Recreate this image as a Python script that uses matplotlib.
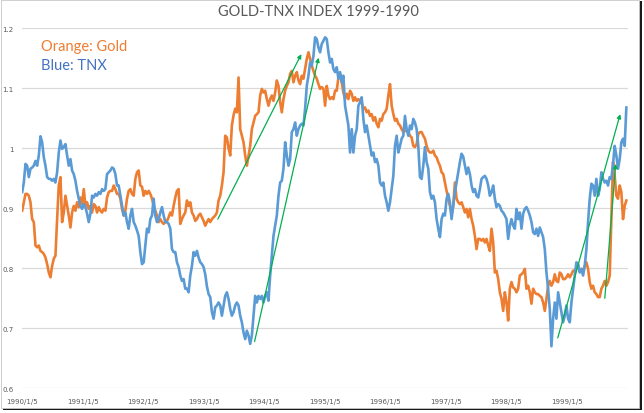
import matplotlib
matplotlib.use("Agg")
import matplotlib.pyplot as plt
from matplotlib.patches import Rectangle
import pandas as pd

plt.rcParams['font.family'] = ['Lato', 'DejaVu Sans']

# weekly-ish samples, 1990/1/5 .. 1999/12/31
gold = [
    0.896, 0.910, 0.924, 0.924, 0.921, 0.910, 0.882, 0.877, 0.838, 0.835,
    0.838, 0.829, 0.827, 0.824, 0.818, 0.807, 0.793, 0.785, 0.804, 0.816,
    0.821, 0.882, 0.938, 0.952, 0.877, 0.893, 0.921, 0.904, 0.888, 0.868,
    0.893, 0.904, 0.896, 0.910, 0.902, 0.918, 0.907, 0.932, 0.904, 0.910,
    0.899, 0.904, 0.893, 0.907, 0.904, 0.893, 0.902, 0.896, 0.893, 0.899,
    0.896, 0.918, 0.927, 0.929, 0.929, 0.938, 0.932, 0.924,
    0.924, 0.916, 0.899, 0.888, 0.896, 0.916, 0.929, 0.932, 0.924, 0.921,
    0.949, 0.960, 0.963, 0.938, 0.936, 0.921, 0.929, 0.924, 0.929, 0.924,
    0.916, 0.904, 0.896, 0.888, 0.877, 0.882, 0.877, 0.874, 0.877, 0.879,
    0.885, 0.893, 0.888, 0.904, 0.918, 0.929, 0.932, 0.874, 0.882, 0.888,
    0.893, 0.913, 0.904, 0.910, 0.893, 0.888, 0.879, 0.882, 0.888, 0.891,
    0.885, 0.879, 0.871, 0.877, 0.882, 0.877, 0.882, 0.885, 0.888, 0.893,
    0.913, 0.921, 0.938, 0.960, 1.021, 1.018, 1.000, 0.988, 1.038, 1.055,
    1.066, 1.060, 1.118, 1.032, 1.021, 1.010, 0.988, 0.971, 0.988, 1.004,
    1.032, 1.043, 1.054, 1.057, 1.060, 1.088, 1.099, 1.093, 1.096, 1.082,
    1.071, 1.082, 1.088, 1.079, 1.093, 1.113, 1.104, 1.077, 1.060, 1.082,
    1.096, 1.104, 1.110, 1.124, 1.129, 1.110, 1.121, 1.127, 1.113, 1.107,
    1.121, 1.116, 1.132, 1.149, 1.160, 1.149, 1.138, 1.129, 1.121, 1.116,
    1.107, 1.099, 1.102, 1.099, 1.071, 1.104, 1.088, 1.082, 1.085, 1.082,
    1.096, 1.096, 1.118, 1.124, 1.110, 1.093, 1.082, 1.091, 1.082, 1.096,
    1.091, 1.079, 1.085, 1.079, 1.082, 1.079, 1.076, 1.066, 1.068, 1.060,
    1.063, 1.054, 1.057, 1.046, 1.052, 1.041, 1.035, 1.049, 1.046, 1.057,
    1.060, 1.066, 1.088, 1.107, 1.071, 1.057, 1.046, 1.049, 1.041, 1.038,
    1.032, 1.027, 1.029, 1.029, 1.027, 1.021, 1.018, 1.004, 1.002, 1.007,
    1.024, 1.027, 1.027, 1.021, 1.016, 1.004, 0.996, 0.993, 0.993, 0.996,
    0.988, 0.985, 0.977, 0.971, 0.960, 0.957, 0.943, 0.929, 0.916, 0.904,
    0.891, 0.904, 0.943, 0.916, 0.910, 0.907, 0.910, 0.902, 0.893, 0.899,
    0.885, 0.899, 0.882, 0.871, 0.854, 0.832, 0.849, 0.849, 0.846, 0.849,
    0.843, 0.849, 0.838, 0.829, 0.866, 0.843, 0.793, 0.796, 0.782, 0.760,
    0.749, 0.729, 0.760, 0.743, 0.713, 0.766, 0.777, 0.768, 0.766, 0.760,
    0.766, 0.788, 0.790, 0.793, 0.799, 0.766, 0.771, 0.760, 0.741, 0.766,
    0.760, 0.757, 0.757, 0.754, 0.752, 0.743, 0.729, 0.749, 0.771, 0.779,
    0.771, 0.777, 0.790, 0.779, 0.777, 0.793, 0.790, 0.782, 0.782, 0.785,
    0.790, 0.785, 0.790, 0.796, 0.796, 0.799, 0.804, 0.796, 0.799, 0.796,
    0.804, 0.810, 0.799, 0.777, 0.766, 0.771, 0.760, 0.757, 0.752, 0.752,
    0.766, 0.771, 0.779, 0.771, 0.777, 0.788, 0.882, 0.977, 0.954, 0.921,
    0.916, 0.938, 0.927, 0.882, 0.904, 0.913,
]

tnx = [
    0.927, 0.943, 0.974, 0.971, 0.952, 0.966, 0.968, 0.971, 0.979, 0.971,
    0.988, 1.020, 1.010, 0.985, 0.971, 0.952, 0.949, 0.949, 0.946, 0.949,
    0.943, 0.960, 0.993, 1.013, 0.999, 1.002, 1.007, 0.988, 0.971, 0.982,
    0.963, 0.957, 0.946, 0.929, 0.916, 0.904, 0.899, 0.907, 0.902, 0.891,
    0.877, 0.891, 0.921, 0.918, 0.924, 0.921, 0.927, 0.924, 0.932, 0.929,
    0.932, 0.957, 0.960, 0.963, 0.968, 0.966, 0.957, 0.938,
    0.938, 0.921, 0.904, 0.888, 0.893, 0.877, 0.866, 0.888, 0.899, 0.877,
    0.871, 0.863, 0.854, 0.827, 0.807, 0.810, 0.838, 0.866, 0.860, 0.882,
    0.888, 0.916, 0.888, 0.877, 0.882, 0.893, 0.902, 0.888, 0.877, 0.877,
    0.874, 0.866, 0.832, 0.827, 0.827, 0.810, 0.802, 0.788, 0.779, 0.782,
    0.766, 0.766, 0.760, 0.788, 0.804, 0.827, 0.821, 0.829, 0.818, 0.810,
    0.807, 0.802, 0.790, 0.770, 0.757, 0.752, 0.727, 0.716, 0.735, 0.738,
    0.743, 0.738, 0.721, 0.738, 0.754, 0.760, 0.749, 0.732, 0.721, 0.727,
    0.738, 0.743, 0.738, 0.721, 0.710, 0.693, 0.682, 0.696, 0.688, 0.674,
    0.688, 0.721, 0.754, 0.743, 0.754, 0.749, 0.754, 0.743, 0.754, 0.760,
    0.746, 0.788, 0.821, 0.854, 0.871, 0.888, 0.921, 0.943, 0.946, 0.966,
    1.010, 0.988, 0.971, 0.982, 1.027, 1.032, 1.043, 1.021, 1.032, 1.038,
    1.041, 1.038, 1.066, 1.104, 1.121, 1.143, 1.138, 1.154, 1.185, 1.182,
    1.168, 1.160, 1.174, 1.179, 1.185, 1.182, 1.160, 1.143, 1.149, 1.132,
    1.127, 1.135, 1.116, 1.127, 1.110, 1.121, 1.071, 1.054, 1.038, 0.993,
    1.032, 0.993, 1.021, 1.032, 1.071, 1.077, 1.085, 1.049, 1.027, 1.038,
    1.021, 1.004, 0.988, 0.993, 0.977, 0.982, 0.971, 0.943, 0.938, 0.943,
    0.921, 0.910, 0.896, 0.910, 0.932, 0.954, 1.004, 1.021, 0.993, 1.004,
    1.016, 1.021, 1.054, 1.032, 1.021, 1.038, 1.032, 1.049, 1.043, 1.032,
    1.004, 0.952, 0.949, 0.971, 1.002, 0.977, 0.966, 0.927, 0.916, 0.921,
    0.910, 0.882, 0.866, 0.852, 0.882, 0.891, 0.888, 0.916, 0.924, 0.910,
    0.882, 0.904, 0.927, 0.943, 0.960, 0.977, 0.991, 0.986, 0.971, 0.957,
    0.968, 0.957, 0.938, 0.927, 0.932, 0.921, 0.918, 0.932, 0.949, 0.952,
    0.954, 0.949, 0.938, 0.921, 0.927, 0.938, 0.916, 0.902, 0.907, 0.904,
    0.896, 0.893, 0.888, 0.882, 0.849, 0.871, 0.882, 0.871, 0.866, 0.899,
    0.882, 0.893, 0.866, 0.891, 0.899, 0.902, 0.896, 0.888, 0.877, 0.860,
    0.857, 0.866, 0.854, 0.868, 0.860, 0.852, 0.832, 0.793, 0.766, 0.732,
    0.670, 0.716, 0.743, 0.716, 0.760, 0.743, 0.727, 0.710, 0.721, 0.738,
    0.716, 0.710, 0.743, 0.766, 0.788, 0.810, 0.807, 0.793, 0.799, 0.788,
    0.804, 0.832, 0.877, 0.916, 0.941, 0.938, 0.921, 0.949, 0.921, 0.932,
    0.960, 0.949, 0.943, 0.946, 0.938, 0.952, 0.949, 0.974, 1.004, 0.988,
    0.966, 0.982, 1.010, 1.016, 1.004, 1.068,
]

dates = pd.date_range('1990-01-05', '1999-12-31', periods=len(gold))

tick_dates = pd.to_datetime([f'{y}-01-05' for y in range(1990, 2000)])
tick_labels = [f'{d.year}/{d.month}/{d.day}' for d in tick_dates]

# green trend arrows (start date, start value, end date, end value)
arrows = [
    ('1993-03-31', 0.882, '1994-08-17', 1.157),
    ('1993-11-08', 0.678, '1994-11-29', 1.151),
    ('1998-11-12', 0.684, '1999-11-24', 1.057),
    ('1999-08-23', 0.750, '1999-10-28', 0.974),
]

ORANGE = '#ED7D31'
BLUE = '#5B9BD5'
GREEN = '#00B050'
GREY = '#595959'

fig = plt.figure(figsize=(6.44, 4.14), dpi=100)
ax = fig.add_axes([22 / 644, 1 - 389.3 / 414, 606 / 644, 360 / 414])

# frame with shadow
fig.patches.append(Rectangle((3 / 644, 3 / 414), 639 / 644, 409 / 414,
                             transform=fig.transFigure, facecolor='#1a1a1a',
                             edgecolor='none', zorder=-3))
fig.patches.append(Rectangle((0.5 / 644, 5 / 414), 638 / 644, 408.5 / 414,
                             transform=fig.transFigure, facecolor='white',
                             edgecolor='#c8c8c8', lw=0.6, zorder=-2))

ax.plot(dates, tnx, color=BLUE, lw=1.9, zorder=3, solid_joinstyle='round')
ax.plot(dates, gold, color=ORANGE, lw=1.9, zorder=2, solid_joinstyle='round')

for x0, y0, x1, y1 in arrows:
    ax.annotate('', xy=(pd.Timestamp(x1), y1), xytext=(pd.Timestamp(x0), y0),
                arrowprops=dict(arrowstyle='-|>', color=GREEN, lw=0.9,
                                mutation_scale=6, shrinkA=0, shrinkB=0),
                zorder=4)

ax.set_ylim(0.6, 1.2)
ax.set_yticks([0.6, 0.7, 0.8, 0.9, 1.0, 1.1, 1.2])
ax.set_yticklabels(['0.6', '0.7', '0.8', '0.9', '1', '1.1', '1.2'],
                   family='DejaVu Sans')
ax.set_xlim(pd.Timestamp('1990-01-04'), pd.Timestamp('2000-01-10'))
ax.set_xticks(tick_dates)
ax.set_xticklabels(tick_labels, family='DejaVu Sans')
ax.tick_params(axis='both', length=0, labelsize=5, labelcolor=GREY)
ax.tick_params(axis='y', pad=6)
ax.tick_params(axis='x', pad=7)
ax.grid(axis='y', color='#D9D9D9', lw=0.9)
ax.set_axisbelow(True)
for s in ax.spines.values():
    s.set_visible(False)
ax.patch.set_alpha(0)

fig.text(318 / 644, 1 - 12.5 / 414, 'GOLD-TNX INDEX 1999-1990', ha='center',
         va='center', fontsize=10.5, color=GREY)
fig.text(41 / 644, 1 - 46.5 / 414, 'Orange: Gold', ha='left', va='center',
         fontsize=10.5, color=ORANGE)
fig.text(41 / 644, 1 - 66 / 414, 'Blue: TNX', ha='left', va='center',
         fontsize=10.5, color='#4472C4')

fig.savefig('out.png', dpi=100)
